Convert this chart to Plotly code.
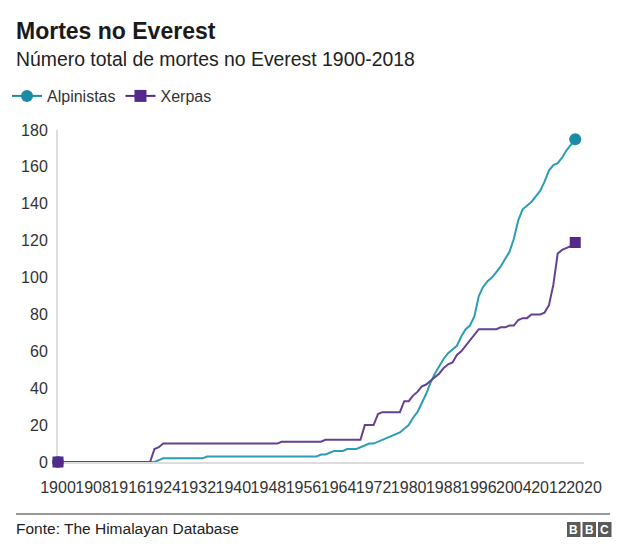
import plotly.graph_objects as go

# ---------------- data ----------------
years = list(range(1900, 2019))

alpinistas = [
    0, 0, 0, 0, 0, 0, 0, 0, 0, 0,            # 1900-1909
    0, 0, 0, 0, 0, 0, 0, 0, 0, 0,            # 1910-1919
    0, 0, 0, 1, 2, 2, 2, 2, 2, 2,            # 1920-1929
    2, 2, 2, 2, 3, 3, 3, 3, 3, 3,            # 1930-1939
    3, 3, 3, 3, 3, 3, 3, 3, 3, 3,            # 1940-1949
    3, 3, 3, 3, 3, 3, 3, 3, 3, 3,            # 1950-1959
    4, 4, 5, 6, 6, 6, 7, 7, 7, 8,            # 1960-1969
    9, 10, 10, 11, 12, 13, 14, 15, 16, 18,   # 1970-1979
    20, 24, 27, 32, 37, 43, 48, 52, 56, 59,  # 1980-1989
    61, 63, 68, 72, 74, 79, 90, 95, 98, 100,  # 1990-1999
    103, 106, 110, 114, 121, 131, 137, 139, 141, 144,  # 2000-2009
    147, 152, 158, 161, 162, 165, 169, 172, 175,       # 2010-2018
]

xerpas = [
    0, 0, 0, 0, 0, 0, 0, 0, 0, 0,            # 1900-1909
    0, 0, 0, 0, 0, 0, 0, 0, 0, 0,            # 1910-1919
    0, 0, 7, 8, 10, 10, 10, 10, 10, 10,      # 1920-1929
    10, 10, 10, 10, 10, 10, 10, 10, 10, 10,  # 1930-1939
    10, 10, 10, 10, 10, 10, 10, 10, 10, 10,  # 1940-1949
    10, 11, 11, 11, 11, 11, 11, 11, 11, 11,  # 1950-1959
    11, 12, 12, 12, 12, 12, 12, 12, 12, 12,  # 1960-1969
    20, 20, 20, 26, 27, 27, 27, 27, 27, 33,  # 1970-1979
    33, 36, 38, 41, 42, 44, 46, 48, 51, 53,  # 1980-1989
    54, 58, 60, 63, 66, 69, 72, 72, 72, 72,  # 1990-1999
    72, 73, 73, 74, 74, 77, 78, 78, 80, 80,  # 2000-2009
    80, 81, 85, 96, 113, 115, 116, 117, 119,  # 2010-2018
]

x_ticks = [1900, 1908, 1916, 1924, 1932, 1940, 1948, 1956, 1964, 1972,
           1980, 1988, 1996, 2004, 2012, 2020]
y_ticks = [0, 20, 40, 60, 80, 100, 120, 140, 160, 180]

series_names = ["Alpinistas", "Xerpas"]

# ---------------- style ----------------
FONT = "Liberation Sans, Arial, Helvetica, sans-serif"
TEAL_LINE = "#2b9db4"
TEAL = "#1b8ba6"
PURPLE_LINE = "#634193"
PURPLE = "#55298a"

OFF = 8                      # page body margin
W, H = 624 - OFF, 558 - OFF
# plot area in page pixels: x 58..584, y 130..462
L, R, T, B = 58 - OFF, 624 - 584, 130 - OFF, 558 - 462
PW, PH = W - L - R, H - T - B


def px(X):
    """page x pixel -> paper x"""
    return (X - OFF - L) / PW


def py(Y):
    """page y pixel -> paper y"""
    return (H - B - (Y - OFF)) / PH


fig = go.Figure()

# lines
fig.add_trace(go.Scatter(x=years, y=alpinistas, mode="lines",
                         line=dict(color=TEAL_LINE, width=2),
                         showlegend=False, hoverinfo="skip"))
fig.add_trace(go.Scatter(x=years, y=xerpas, mode="lines",
                         line=dict(color=PURPLE_LINE, width=2),
                         showlegend=False, hoverinfo="skip"))

# end markers
fig.add_trace(go.Scatter(x=[years[0], years[-1]], y=[alpinistas[0], alpinistas[-1]],
                         mode="markers", cliponaxis=False,
                         marker=dict(symbol="circle", size=12, color=TEAL),
                         showlegend=False, hoverinfo="skip"))
fig.add_trace(go.Scatter(x=[years[0], years[-1]], y=[xerpas[0], xerpas[-1]],
                         mode="markers", cliponaxis=False,
                         marker=dict(symbol="square", size=11, color=PURPLE),
                         showlegend=False, hoverinfo="skip"))

# legend entries
fig.add_trace(go.Scatter(x=[None], y=[None], mode="lines+markers", name=series_names[0],
                         line=dict(color=TEAL, width=2),
                         marker=dict(symbol="circle", size=12, color=TEAL)))
fig.add_trace(go.Scatter(x=[None], y=[None], mode="lines+markers", name=series_names[1],
                         line=dict(color=PURPLE, width=2),
                         marker=dict(symbol="square", size=12, color=PURPLE)))

fig.update_layout(
    width=W, height=H,
    margin=dict(l=L, r=R, t=T, b=B, autoexpand=False),
    paper_bgcolor="white", plot_bgcolor="white",
    font=dict(family=FONT, color="#333333", size=15),
    showlegend=True,
    legend=dict(orientation="h", x=px(7), xanchor="left", y=py(96), yanchor="middle",
                font=dict(size=16, color="#333333", family=FONT),
                bgcolor="rgba(0,0,0,0)", itemclick=False, itemdoubleclick=False),
    xaxis=dict(range=[1900, 2020], tickvals=x_ticks, ticktext=[str(v) for v in x_ticks],
               tickangle=0,
               showgrid=False, zeroline=False, showline=True, linecolor="#dddddd",
               linewidth=2, ticks="", ticklabelstandoff=10, layer="below traces",
               tickfont=dict(size=16, color="#333333"), fixedrange=True),
    yaxis=dict(range=[0, 180], tickvals=y_ticks,
               showgrid=False, zeroline=False, showline=True, linecolor="#dddddd",
               linewidth=2, ticks="", ticklabelstandoff=5, layer="below traces",
               tickfont=dict(size=16, color="#333333"), fixedrange=True),
    hovermode=False,
)

annotations = [
    dict(text="<b>Mortes no Everest</b>", x=px(14), y=py(31), xref="paper", yref="paper",
         xanchor="left", yanchor="middle", showarrow=False,
         font=dict(size=23, color="#1a1a1a", family=FONT)),
    dict(text="Número total de mortes no Everest 1900-2018", x=px(14), y=py(59),
         xref="paper", yref="paper", xanchor="left", yanchor="middle", showarrow=False,
         font=dict(size=19.4, color="#222222", family=FONT)),
    dict(text="Fonte: The Himalayan Database", x=px(14), y=py(528),
         xref="paper", yref="paper", xanchor="left", yanchor="middle", showarrow=False,
         font=dict(size=15.5, color="#222222", family=FONT)),
]

shapes = [
    dict(type="line", xref="paper", yref="paper", x0=px(16), x1=px(610), y0=py(514), y1=py(514),
         line=dict(color="#333333", width=1)),
]

# BBC logo blocks
block_w, gap = 13.5, 2
for i, letter in enumerate(["B", "B", "C"]):
    x0 = 567 + i * (block_w + gap)
    shapes.append(dict(type="rect", xref="paper", yref="paper",
                       x0=px(x0), x1=px(x0 + block_w), y0=py(537), y1=py(522),
                       fillcolor="#5a5a5a", line=dict(width=0)))
    annotations.append(dict(text="<b>%s</b>" % letter, x=px(x0 + block_w / 2), y=py(529.5),
                            xref="paper", yref="paper", xanchor="center", yanchor="middle",
                            showarrow=False, font=dict(size=12, color="white", family=FONT)))

fig.update_layout(annotations=annotations, shapes=shapes)

fig.write_html("out.html", config={"displayModeBar": False})
